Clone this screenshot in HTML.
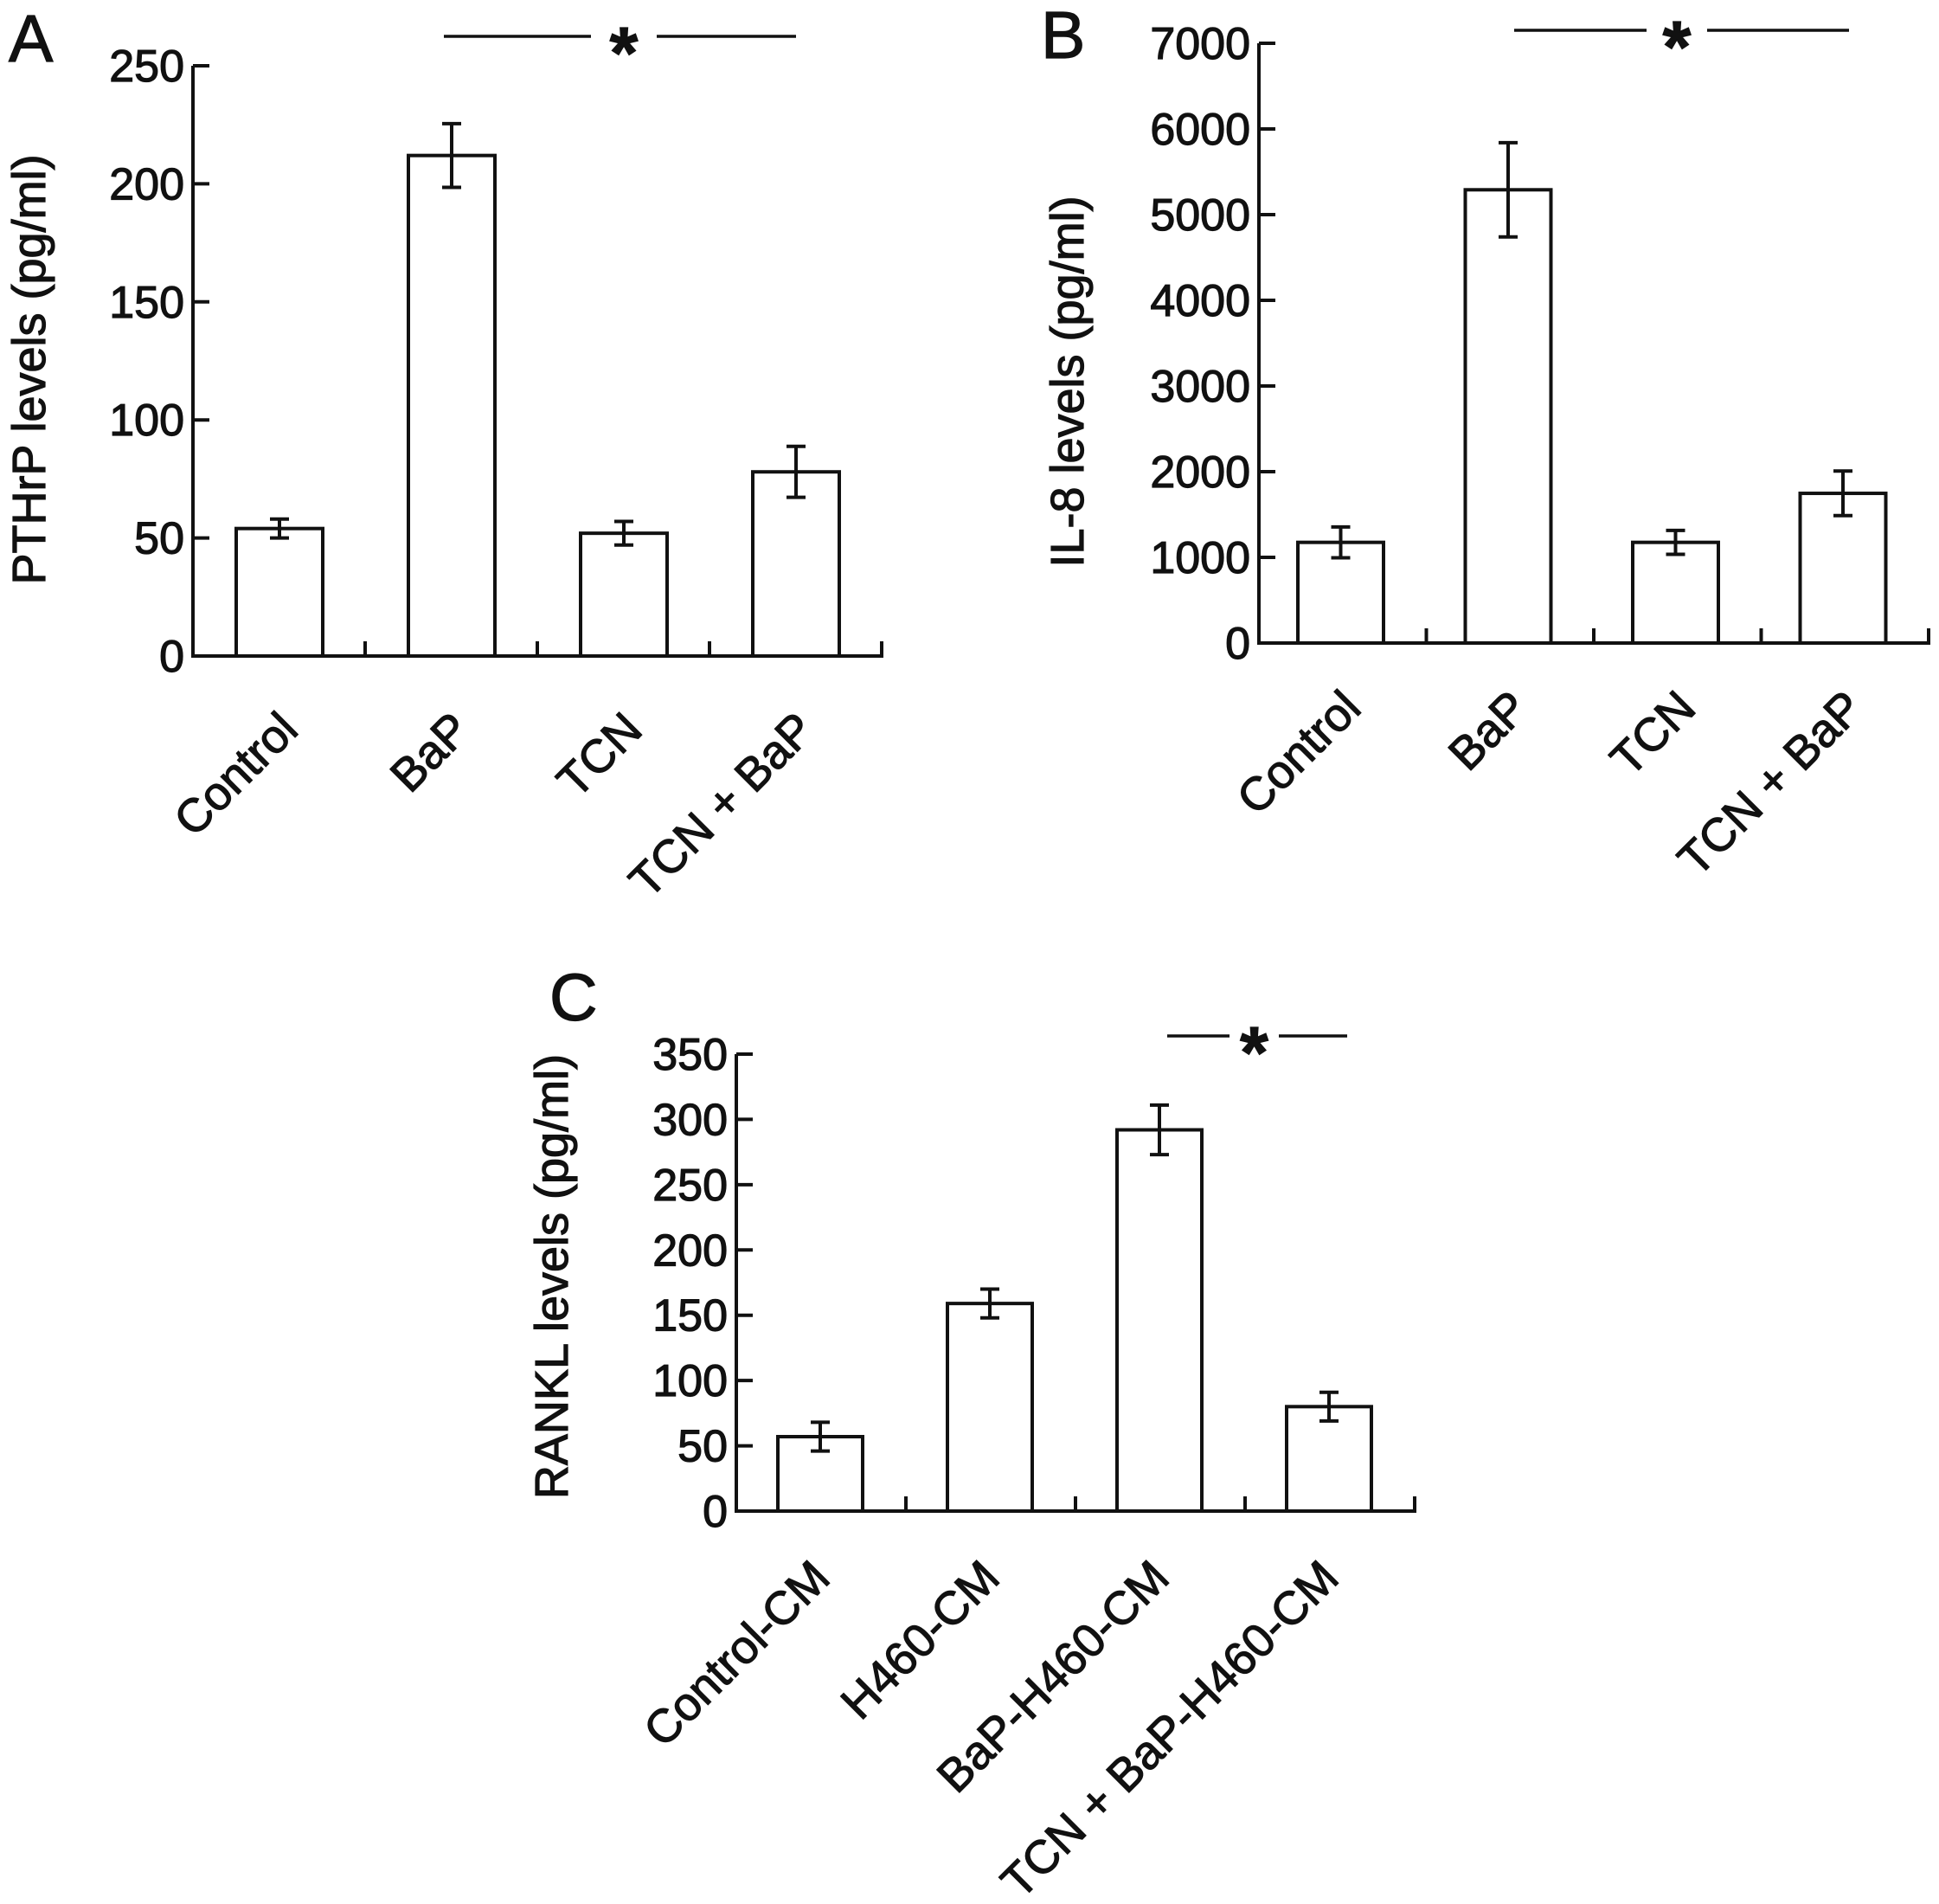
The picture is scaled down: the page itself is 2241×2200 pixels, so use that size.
<!DOCTYPE html>
<html><head><meta charset="utf-8"><style>
html,body{margin:0;padding:0;background:#fff}
svg{display:block}
text{font-family:"Liberation Sans",Arial,sans-serif;fill:#111;stroke:#111;stroke-width:1.2}
</style></head><body>
<svg id="fig" width="2241" height="2200" viewBox="0 0 2241 2200" xmlns="http://www.w3.org/2000/svg"></svg>
<script>
// Panel A data
const catsA = ["Control", "BaP", "TCN", "TCN + BaP"];
const valsA = [54, 212, 52, 78];
const errsA = [4, 13.5, 5, 10.8];
const ticksA = [0, 50, 100, 150, 200, 250];
// Panel B data
const catsB = ["Control", "BaP", "TCN", "TCN + BaP"];
const valsB = [1175, 5290, 1175, 1747];
const errsB = [180, 550, 140, 260];
const ticksB = [0, 1000, 2000, 3000, 4000, 5000, 6000, 7000];
// Panel C data
const catsC = ["Control-CM", "H460-CM", "BaP-H460-CM", "TCN + BaP-H460-CM"];
const valsC = [57, 159, 292, 80];
const errsC = [11, 11, 19, 11];
const ticksC = [0, 50, 100, 150, 200, 250, 300, 350];

const NS = "http://www.w3.org/2000/svg";
const svg = document.getElementById("fig");
function mk(tag, attrs, parent) {
  const e = document.createElementNS(NS, tag);
  for (const k in attrs) e.setAttribute(k, attrs[k]);
  (parent || svg).appendChild(e);
  return e;
}
const SW = 4;

function panel(cfg) {
  const g = mk("g", {});
  
  
  const vmax = cfg.ticks[cfg.ticks.length - 1];
  const y = v => cfg.y0 - (v / vmax) * (cfg.y0 - cfg.yTop);
  const xEnd = cfg.ax + cfg.cw * cfg.cats.length;
  const ya = mk("line", {x1: cfg.ax, y1: y(vmax), x2: cfg.ax, y2: cfg.y0, stroke: "#111", "stroke-width": SW}, g);
  
  
  const xa = mk("line", {x1: cfg.ax - 2, y1: cfg.y0, x2: xEnd + 2, y2: cfg.y0, stroke: "#111", "stroke-width": SW}, g);
  
  
  cfg.ticks.forEach(t => {
    const tk = mk("line", {x1: cfg.ax, y1: y(t), x2: cfg.ax + 19, y2: y(t), stroke: "#111", "stroke-width": SW}, g);
    
    
    const tl = mk("text", {x: cfg.ax - 10, y: y(t) + 18, "text-anchor": "end", "font-size": 52}, g);
    tl.textContent = t;
    
    
  });
  for (let i = 1; i <= cfg.cats.length; i++) {
    const d = mk("line", {x1: cfg.ax + cfg.cw * i, y1: cfg.y0, x2: cfg.ax + cfg.cw * i, y2: cfg.y0 - 17, stroke: "#111", "stroke-width": SW}, g);
    
    
  }
  cfg.cats.forEach((c, i) => {
    const x0 = cfg.ax + cfg.cw * i + cfg.off;
    const cx = x0 + cfg.bw / 2;
    const b = mk("rect", {x: x0, y: y(cfg.vals[i]), width: cfg.bw, height: cfg.y0 - y(cfg.vals[i]), fill: "#fff", stroke: "#111", "stroke-width": SW}, g);
    
    
    const hi = y(cfg.vals[i] + cfg.errs[i]), lo = y(cfg.vals[i] - cfg.errs[i]);
    const eb = mk("path", {d: `M${cx},${hi}V${lo}M${cx - 11},${hi}H${cx + 11}M${cx - 11},${lo}H${cx + 11}`, stroke: "#111", "stroke-width": SW, fill: "none"}, g);
    
    
    const lx = cx + cfg.lx, ly = cfg.y0 + cfg.ly;
    const lt = mk("text", {x: lx, y: ly, "text-anchor": "end", "font-size": 54, transform: `rotate(-45 ${lx} ${ly})`}, g);
    lt.textContent = c;
    
    
  });
  const tt = mk("text", {x: cfg.tx, y: cfg.ty, "text-anchor": "middle", "font-size": 54, transform: `rotate(-90 ${cfg.tx} ${cfg.ty})`}, g);
  tt.textContent = cfg.title;
  
  
  const pl = mk("text", {x: cfg.px, y: cfg.py, "font-size": 77}, g);
  pl.textContent = cfg.letter;
  
  
  const s = cfg.sig;
  const sl = mk("path", {d: `M${s[0]},${s[4]}H${s[1]}M${s[2]},${s[4]}H${s[3]}`, stroke: "#111", "stroke-width": 3.5}, g);
  
  
  const st = mk("text", {x: (s[1] + s[2]) / 2, y: s[4] + 48, "text-anchor": "middle", "font-size": 84, "font-weight": "bold"}, g);
  st.textContent = "*";
  
  
}

panel({id: "panel-a", letter: "A", px: 10, py: 71, cats: catsA, vals: valsA, errs: errsA, ticks: ticksA,
  ax: 223, y0: 758, yTop: 76, cw: 199, off: 50, bw: 100, lx: 24, ly: 88,
  title: "PTHrP levels (pg/ml)", tx: 52, ty: 427, sig: [513, 683, 759, 920, 42]});
panel({id: "panel-b", letter: "B", px: 1203, py: 67, cats: catsB, vals: valsB, errs: errsB, ticks: ticksB,
  ax: 1455, y0: 743, yTop: 50, cw: 193.5, off: 45, bw: 99, lx: 26, ly: 78,
  title: "IL-8 levels (pg/ml)", tx: 1252, ty: 441, sig: [1750, 1903, 1973, 2137, 35]});
panel({id: "panel-c", letter: "C", px: 635, py: 1179, cats: catsC, vals: valsC, errs: errsC, ticks: ticksC,
  ax: 851, y0: 1746, yTop: 1218, cw: 196, off: 48, bw: 98, lx: 14, ly: 80,
  title: "RANKL levels (pg/ml)", tx: 656, ty: 1475, sig: [1349, 1421, 1478, 1557, 1197]});
</script>
</body></html>
